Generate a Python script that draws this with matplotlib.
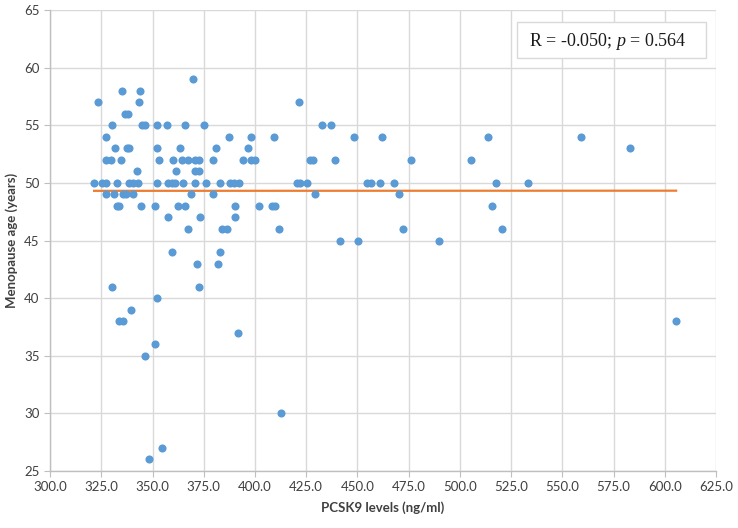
import matplotlib
matplotlib.use('Agg')
import matplotlib.pyplot as plt
from matplotlib.patches import Rectangle
import numpy as np

# PCSK9 (ng/ml) values grouped by menopause age (years)
age_groups = {
    59: [369.8],
    58: [335.3, 344.1],
    57: [323.4, 343.3, 421.4],
    56: [336.6, 338.2],
    55: [330.4, 345.1, 346.4, 352.2, 357.3, 366.1, 375.0, 432.8, 436.9],
    54: [327.3, 387.2, 398.0, 409.4, 448.3, 462.1, 513.9, 559.1],
    53: [331.7, 337.4, 338.7, 352.2, 363.3, 381.2, 396.5, 583.2],
    52: [327.3, 329.6, 334.5, 353.2, 360.2, 364.6, 367.2, 370.7, 372.6,
         379.6, 394.4, 398.1, 399.8, 427.0, 428.3, 439.2, 476.1, 505.6],
    51: [342.3, 361.3, 370.7, 372.6],
    50: [321.5, 325.5, 327.2, 332.5, 338.7, 340.3, 342.8, 352.1, 357.8,
         359.7, 361.1, 365.1, 370.5, 376.2, 383.0, 387.9, 389.8, 392.3,
         420.3, 422.1, 425.3, 454.9, 456.7, 460.8, 467.8, 517.4, 533.0],
    49: [327.2, 331.4, 335.5, 337.0, 340.4, 368.8, 379.6, 429.2, 470.4],
    48: [332.9, 333.8, 344.4, 351.3, 362.4, 365.9, 390.3, 402.2, 408.4,
         410.0, 515.8],
    47: [357.4, 373.1, 390.3],
    46: [367.4, 383.8, 386.3, 411.8, 472.2, 520.5],
    45: [441.3, 450.5, 489.6],
    44: [359.4, 383.0],
    43: [371.6, 382.2],
    41: [330.4, 372.9],
    40: [352.2],
    39: [339.4],
    38: [333.5, 335.5, 605.5],
    37: [391.8],
    36: [351.1],
    35: [346.2],
    30: [412.5],
    27: [354.5],
    26: [348.2],
}

pcsk9 = []
age = []
for a, xs in age_groups.items():
    for x in xs:
        pcsk9.append(x)
        age.append(a)
pcsk9 = np.array(pcsk9)
age = np.array(age)

# linear trendline
slope, intercept = np.polyfit(pcsk9, age, 1)
trend_x = np.array([pcsk9.min(), pcsk9.max()])
trend_y = slope * trend_x + intercept

plt.rcParams['font.family'] = ['Lato', 'DejaVu Sans']
plt.rcParams['mathtext.fontset'] = 'custom'
plt.rcParams['mathtext.rm'] = 'Liberation Serif'
plt.rcParams['mathtext.it'] = 'Liberation Serif:italic'

fig = plt.figure(figsize=(7.38, 5.28), dpi=100)
ax = fig.add_axes([0.0678, 0.108, 0.9025, 0.873])

ax.scatter(pcsk9, age, s=34, color='#5B9BD5', zorder=3, linewidths=0)
ax.plot(trend_x, trend_y, color='#ED7D31', linewidth=1.6, zorder=2)

ax.set_xlim(300, 625)
ax.set_ylim(25, 65)
ax.set_xticks(np.arange(300, 626, 25))
ax.set_xticklabels(['%.1f' % v for v in np.arange(300, 626, 25)])
ax.set_yticks(np.arange(25, 66, 5))

ax.grid(True, color='#D9D9D9', linewidth=1.0)
ax.set_axisbelow(True)
for s in ['top', 'right']:
    ax.spines[s].set_visible(False)
for s in ['left', 'bottom']:
    ax.spines[s].set_color('#BFBFBF')
    ax.spines[s].set_linewidth(1.0)
ax.tick_params(axis='both', colors='#BFBFBF', labelcolor='#404040',
               labelsize=9.5, length=4)

ax.set_xlabel('PCSK9 levels (ng/ml)', fontsize=9.5, fontweight='bold',
              color='#404040', labelpad=6)
ax.set_ylabel('Menopause age (years)', fontsize=9.5, fontweight='bold',
              color='#404040', va='center')
ax.yaxis.set_label_coords(-0.058, 0.5)

# correlation box
ax.add_patch(Rectangle((0.701, 0.8965), 0.284, 0.078, transform=ax.transAxes,
                       facecolor='white', edgecolor='#D9D9D9', linewidth=1.0,
                       zorder=4))
ax.text(0.719, 0.932, r'R = -0.050; $\it{p}$ = 0.564', transform=ax.transAxes,
        ha='left', va='center', fontsize=13, family='Liberation Serif',
        color='#1a1a1a', zorder=5)

fig.savefig('out.png', dpi=100)
